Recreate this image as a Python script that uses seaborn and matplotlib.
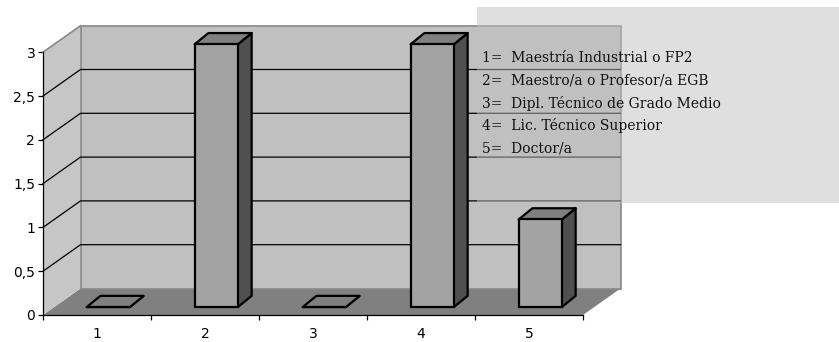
import matplotlib
matplotlib.use('Agg')
import matplotlib.pyplot as plt
import seaborn as sns
from matplotlib.patches import Polygon, Rectangle

# datos del grafico
categorias = ['1', '2', '3', '4', '5']
valores = [0, 3, 0, 3, 1]
ticks_y = [0, 0.5, 1, 1.5, 2, 2.5, 3]
etiquetas_y = ['0', '0,5', '1', '1,5', '2', '2,5', '3']
leyenda = [
    '1=  Maestría Industrial o FP2',
    '2=  Maestro/a o Profesor/a EGB',
    '3=  Dipl. Técnico de Grado Medio',
    '4=  Lic. Técnico Superior',
    '5=  Doctor/a',
]

W, H = 839, 342
fig = plt.figure(figsize=(W / 100, H / 100), dpi=100)
ax = fig.add_axes([43 / W, 27 / H, 540 / W, 262.8 / H])

sns.barplot(x=categorias, y=valores, color='#a3a3a3', saturation=1, width=0.4,
            edgecolor='black', linewidth=1.6, ax=ax, zorder=6)
ax.set_xlim(-0.5, 4.5)
ax.set_ylim(0, 3)
ax.set_xlabel('')
ax.set_ylabel('')
ax.patch.set_visible(False)

# profundidad de la caja 3D (en unidades de datos)
DX, DY = 37.5 / 108, 26.5 / 87.6
# profundidad de cada barra
BX, BY = 13.8 / 108, 11.2 / 87.6
x0, x1 = -0.5, 4.5

# suelo
ax.add_patch(Polygon([(x0, 0), (x1, 0), (x1 + DX, DY), (x0 + DX, DY)],
                     closed=True, facecolor='#808080', edgecolor='none', zorder=1, clip_on=False))
# pared izquierda
ax.add_patch(Polygon([(x0, 0), (x0, 3), (x0 + DX, 3 + DY), (x0 + DX, DY)],
                     closed=True, facecolor='#c6c6c6', edgecolor='none', zorder=1, clip_on=False))
# pared del fondo
ax.add_patch(Rectangle((x0 + DX, DY), x1 - x0, 3, facecolor='#c0c0c0',
                       edgecolor='#888888', linewidth=1.2, zorder=1, clip_on=False))
ax.plot([x0, x0 + DX], [3, 3 + DY], color='#888888', lw=1.2, zorder=2, clip_on=False)

# lineas de division
for v in ticks_y[1:-1]:
    ax.plot([x0, x0 + DX, x1 + DX], [v, v + DY, v + DY], color='black', lw=0.9,
            zorder=2, clip_on=False)

# barras en 3D: se mueven al plano de las barras y se dibujan lado y tapa
for p in ax.patches:
    if not isinstance(p, Rectangle) or p.get_zorder() != 6:
        continue
    p.set_x(p.get_x() + 0.3 * DX)
    p.set_y(0.3 * DY)
    bx0 = p.get_x()
    bx1 = bx0 + p.get_width()
    yb = p.get_y()
    yt = yb + p.get_height()
    lado = Polygon([(bx1, yb), (bx1 + BX, yb + BY), (bx1 + BX, yt + BY), (bx1, yt)],
                   closed=True, facecolor='#505050', edgecolor='black', linewidth=1.6,
                   joinstyle='round', zorder=5, clip_on=False)
    tapa = Polygon([(bx0, yt), (bx1, yt), (bx1 + BX, yt + BY), (bx0 + BX, yt + BY)],
                   closed=True, facecolor='#808080', edgecolor='black', linewidth=1.6,
                   joinstyle='round', zorder=5, clip_on=False)
    ax.add_patch(lado)
    ax.add_patch(tapa)
    p.set_clip_on(False)

# ejes
for s in ['top', 'right']:
    ax.spines[s].set_visible(False)
ax.spines['left'].set_linewidth(0.9)
ax.spines['bottom'].set_linewidth(0.9)
ax.spines['left'].set_zorder(7)
ax.spines['bottom'].set_zorder(7)
ax.set_yticks(ticks_y, etiquetas_y)
ax.set_xticks(range(len(categorias)), categorias)
ax.set_xticks([i - 0.5 for i in range(len(categorias) + 1)], minor=True)
ax.tick_params(axis='y', length=3.6, width=0.9, pad=2, labelsize=10)
ax.tick_params(axis='x', which='major', length=0, pad=9, labelsize=10)
ax.tick_params(axis='x', which='minor', length=3.6, width=0.9)

# leyenda semitransparente
fig.add_artist(Rectangle((477 / W, (H - 203) / H), 362 / W, 196 / H,
                         transform=fig.transFigure, facecolor='#c0c0c0', alpha=0.5,
                         edgecolor='none', zorder=10))
for i, txt in enumerate(leyenda):
    fig.text(482 / W, 1 - (58 + 22.6 * i) / H, txt, va='center', ha='left',
             family='DejaVu Serif', fontsize=10, color='#111111', zorder=11)

fig.savefig('out.png', dpi=100)
